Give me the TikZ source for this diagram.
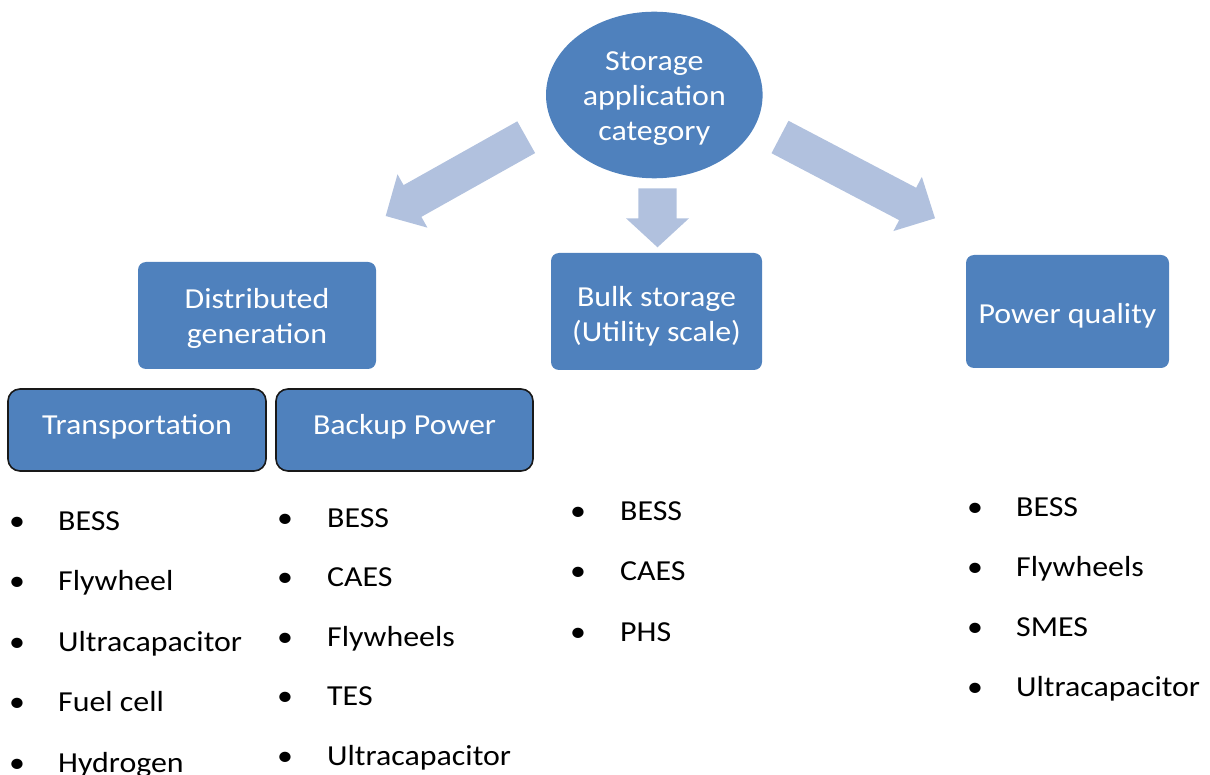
\documentclass[tikz,border=0pt]{standalone}
\usepackage{fontspec}
\setmainfont{Carlito}[FakeStretch=1.1]
\usetikzlibrary{shapes.geometric,calc}

\definecolor{boxblue}{RGB}{79,129,189}
\definecolor{arrowblue}{RGB}{177,193,222}
\definecolor{edgegray}{RGB}{25,25,25}

% Block arrow from tail #1 to tip #2: half shaft width #3, half head width #4, head length #5
\newcommand\blockarrow[5]{%
  \coordinate (#1-hb) at ($(#2)!#5!(#1)$);
  \fill[arrowblue]
    ($(#1)!#3!90:(#2)$) -- ($(#1-hb)!#3!90:(#2)$) -- ($(#1-hb)!#4!90:(#2)$) --
    (#2) --
    ($(#1-hb)!#4!-90:(#2)$) -- ($(#1-hb)!#3!-90:(#2)$) -- ($(#1)!#3!-90:(#2)$) -- cycle;
}

\begin{document}
\begin{tikzpicture}[x=1pt,y=-1pt,
  bigtext/.style={font=\fontsize{29}{35}\selectfont},
  shapetext/.style={bigtext, text=white, align=center, inner sep=0pt},
  catbox/.style={rectangle, rounded corners=8pt, fill=boxblue, inner sep=0pt},
  subbox/.style={catbox, draw=edgegray, line width=1.6pt, rounded corners=12pt},
  item/.style={bigtext, anchor=base west, inner sep=0pt},
  dot/.style={bigtext, anchor=base, inner sep=0pt}]
\useasboundingbox (0,0) rectangle (1210,775);

% top category
\node[ellipse, fill=boxblue, inner sep=0pt,
      minimum width=216.6pt, minimum height=166.6pt] (root) at (654.3,95) {};
\node[shapetext] (roottext) at ([yshift=-4pt]root.center) {Storage\\application\\category};

% application categories
\node[catbox, minimum width=238pt, minimum height=107pt] (dg) at (257,315.5) {};
\node[shapetext] (dgtext) at ([yshift=-3pt]dg.center) {Distributed\\generation};
\node[catbox, minimum width=211pt, minimum height=117pt] (bulk) at (656.5,311.5) {};
\node[shapetext] (bulktext) at ([yshift=-5pt]bulk.center) {Bulk storage\\(Utility scale)};
\node[catbox, minimum width=203pt, minimum height=113pt] (pq) at (1067.5,311.5) {};
\node[shapetext] (pqtext) at ([yshift=-4pt]pq.center) {Power quality};

% distributed generation sub-categories
\node[subbox, minimum width=258pt, minimum height=82pt] (tr) at (137,430) {};
\node[shapetext] (trtext) at ([yshift=3pt]tr.center) {Transportation};
\node[subbox, minimum width=257pt, minimum height=82pt] (bp) at (404.5,430) {};
\node[shapetext] (bptext) at ([yshift=3pt]bp.center) {Backup Power};

% block arrows
\coordinate (la) at (526.2,137.2); \coordinate (lt) at (385.7,216);
\coordinate (ma) at (657.5,188.3); \coordinate (mt) at (657.5,247.3);
\coordinate (ra) at (780,137);     \coordinate (rt) at (935,218.3);
\blockarrow{la}{lt}{18.2pt}{30.6pt}{30.7pt}
\blockarrow{ma}{mt}{19.2pt}{31.5pt}{29pt}
\blockarrow{ra}{rt}{18.3pt}{30.6pt}{30.9pt}

% technology lists
\foreach \t [count=\i] in {BESS, Flywheel, Ultracapacitor, Fuel cell, Hydrogen} {
  \node[dot]  (trb\i) at (17, {530+60.5*(\i-1)}) {\textbullet};
  \node[item] (tri\i) at (58, {530+60.5*(\i-1)}) {\t};
}
\foreach \t [count=\i] in {BESS, CAES, Flywheels, TES, Ultracapacitor} {
  \node[dot]  (bpb\i) at (285, {527+59.6*(\i-1)}) {\textbullet};
  \node[item] (bpi\i) at (327, {527+59.6*(\i-1)}) {\t};
}
\foreach \t [count=\i] in {BESS, CAES, PHS} {
  \node[dot]  (bsb\i) at (578, {520+60.5*(\i-1)}) {\textbullet};
  \node[item] (bsi\i) at (620, {520+60.5*(\i-1)}) {\t};
}
\foreach \t [count=\i] in {BESS, Flywheels, SMES, Ultracapacitor} {
  \node[dot]  (pqb\i) at (975, {516+60*(\i-1)}) {\textbullet};
  \node[item] (pqi\i) at (1016, {516+60*(\i-1)}) {\t};
}
\end{tikzpicture}
\end{document}
